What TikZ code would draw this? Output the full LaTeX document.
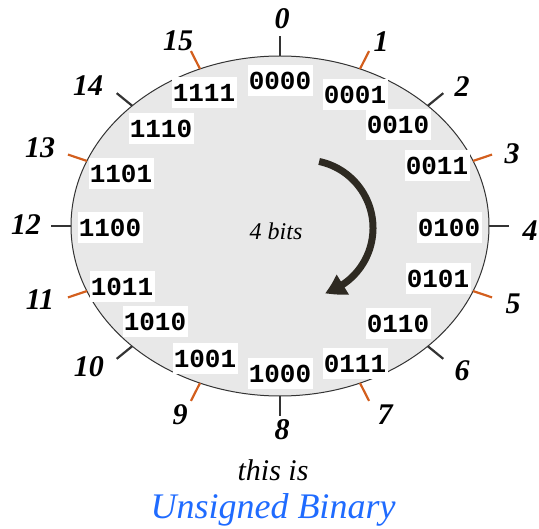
\documentclass[tikz,border=0pt]{standalone}
\usepackage{fontspec}
\setmainfont{Liberation Serif}
\setmonofont{Liberation Mono}
\usetikzlibrary{arrows.meta,calc,bending}
\definecolor{orng}{HTML}{D35F1E}
\definecolor{tdark}{HTML}{333333}
\definecolor{arrowc}{HTML}{2E2A22}
\definecolor{ellfill}{HTML}{E8E8E8}
\definecolor{titleblue}{HTML}{1F6BFF}
\begin{document}
\begin{tikzpicture}[x=1pt,y=1pt,
  bin/.style={fill=white, minimum width=65pt, minimum height=31pt, inner sep=0pt,
    font=\fontsize{26}{26}\selectfont\ttfamily\bfseries},
  num/.style={inner sep=0pt, font=\fontsize{30}{30}\selectfont\bfseries\itshape},
  tickline/.style={line width=2.2pt}]
\useasboundingbox (0,0) rectangle (539,-529);
\coordinate (C) at (280,-226);
\path[fill=ellfill, draw=tdark, line width=1pt] (C) ellipse [x radius=209, y radius=170];
\foreach \k in {0,...,15}{
  \pgfmathsetmacro\t{90-22.5*\k}
  \coordinate (p\k) at ($(C)+(\t:209 and 170)$);
  \coordinate (q\k) at ($(p\k)!-20pt!(C)$);
  \ifodd\k \def\tc{orng}\else\def\tc{tdark}\fi
  \draw[tickline, draw=\tc] (p\k) -- (q\k);
}
% arrow
\coordinate (ac) at (305,-228);
\draw[arrowc, line width=7pt, -{Triangle[length=20pt,width=22pt,bend]}]
  ($(ac)+(78:68)$) arc[start angle=78, end angle=-73, radius=68];
\node[inner sep=0pt, font=\fontsize{24}{24}\selectfont\itshape] (bits) at (276,-231) {4 bits};
% number labels
\node[num] (n0) at (282,-19) {0};
\node[num] (n1) at (381,-42) {1};
\node[num] (n2) at (462,-87) {2};
\node[num] (n3) at (512,-154) {3};
\node[num] (n4) at (530,-231) {4};
\node[num] (n5) at (513,-304) {5};
\node[num] (n6) at (462,-371) {6};
\node[num] (n7) at (385,-415) {7};
\node[num] (n8) at (282,-430) {8};
\node[num] (n9) at (180,-415) {9};
\node[num] (n10) at (89,-367) {10};
\node[num] (n11) at (40,-300) {11};
\node[num] (n12) at (26,-225) {12};
\node[num] (n13) at (40,-148) {13};
\node[num] (n14) at (88,-86) {14};
\node[num] (n15) at (178,-41) {15};
% binary labels
\node[bin] (b0) at (280,-81) {0000};
\node[bin] (b1) at (355,-95) {0001};
\node[bin] (b2) at (398,-125) {0010};
\node[bin] (b3) at (437,-166) {0011};
\node[bin] (b4) at (449,-228) {0100};
\node[bin] (b5) at (438,-279) {0101};
\node[bin] (b6) at (398,-324) {0110};
\node[bin] (b7) at (355,-364) {0111};
\node[bin] (b8) at (280,-374) {1000};
\node[bin] (b9) at (205,-359) {1001};
\node[bin] (b10) at (155,-322) {1010};
\node[bin] (b11) at (122,-287) {1011};
\node[bin] (b12) at (110,-228) {1100};
\node[bin] (b13) at (121,-174) {1101};
\node[bin] (b14) at (161,-129) {1110};
\node[bin] (b15) at (204,-93) {1111};
% captions
\node[inner sep=0pt, anchor=base, font=\fontsize{30}{30}\selectfont\itshape] (cap1) at (273,-481) {this is};
\node[inner sep=0pt, anchor=base, text=titleblue, font=\fontsize{36}{36}\selectfont\itshape] (cap2) at (273,-519) {Unsigned Binary};
\end{tikzpicture}
\end{document}
